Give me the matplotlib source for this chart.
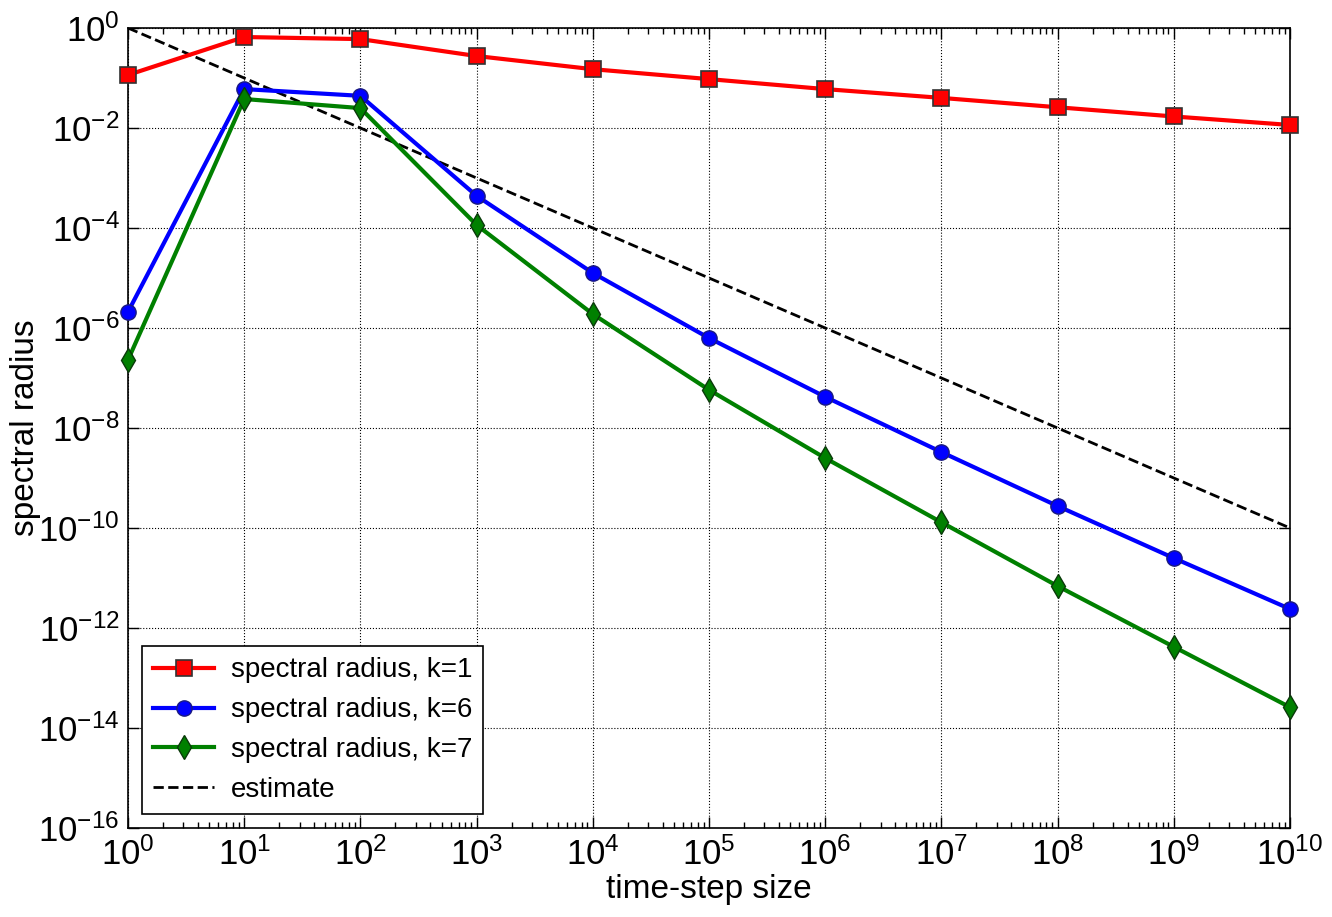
import numpy as np
import matplotlib
matplotlib.use("Agg")
import matplotlib.pyplot as plt
from matplotlib.ticker import LogLocator, FixedLocator, NullLocator

plt.rcParams['font.family'] = ['Liberation Sans', 'DejaVu Sans']
plt.rcParams['mathtext.fontset'] = 'custom'
plt.rcParams['mathtext.rm'] = 'Liberation Sans'
plt.rcParams['mathtext.it'] = 'Liberation Sans'
plt.rcParams['mathtext.default'] = 'regular'

dt = [1e0, 1e1, 1e2, 1e3, 1e4, 1e5, 1e6, 1e7, 1e8, 1e9, 1e10]
rho_k1 = [0.115, 0.66, 0.60, 0.275, 0.15, 0.095, 0.06, 0.04, 0.026, 0.017, 0.0115]
rho_k6 = [2.1e-6, 0.06, 0.044, 4.4e-4, 1.26e-5, 6.3e-7, 4.2e-8, 3.3e-9, 2.75e-10, 2.5e-11, 2.4e-12]
rho_k7 = [2.3e-7, 0.038, 0.025, 1.15e-4, 1.9e-6, 5.8e-8, 2.5e-9, 1.3e-10, 6.9e-12, 4.2e-13, 2.6e-14]
estimate = [1.0 / d for d in dt]

fig = plt.figure(figsize=(13.32, 9.17), dpi=100)
ax = fig.add_axes([128/1332, 1 - 828/917, (1290-128)/1332, (828-28)/917])

ax.loglog(dt, rho_k1, '-', color='red', lw=3, marker='s', ms=11, mec='#333333', mew=1.2,
          label='spectral radius, k=1', clip_on=False, zorder=3)
ax.loglog(dt, rho_k6, '-', color='blue', lw=3, marker='o', ms=11, mec='#1a1a80', mew=1.0,
          label='spectral radius, k=6', clip_on=False, zorder=3)
ax.loglog(dt, rho_k7, '-', color='green', lw=3, marker='d', ms=12, mec='#0a3a0a', mew=1.0,
          label='spectral radius, k=7', clip_on=False, zorder=3)
ax.loglog(dt, estimate, '--', color='black', lw=2, label='estimate', zorder=2)

ax.set_xlim(1, 1e10)
ax.set_ylim(1e-16, 1)

ax.xaxis.set_major_locator(FixedLocator([10.0**i for i in range(0, 11)]))
ax.xaxis.set_minor_locator(LogLocator(base=10, subs=np.arange(2, 10), numticks=100))
ax.yaxis.set_major_locator(FixedLocator([10.0**i for i in range(-16, 1, 2)]))
ax.yaxis.set_minor_locator(NullLocator())
ax.set_xticklabels([r'$10^{%d}$' % i for i in range(0, 11)])
ax.set_yticklabels([r'$10^{%d}$' % i for i in range(-16, 1, 2)])

ax.tick_params(which='both', direction='in', top=True, right=True)
ax.tick_params(which='major', length=8, width=1, labelsize=25)
ax.tick_params(axis='x', which='major', pad=7)
ax.tick_params(axis='y', which='major', pad=6)
ax.tick_params(which='minor', length=4, width=1)
ax.grid(True, which='major', linestyle=':', color='black', lw=0.8)
for s in ax.spines.values():
    s.set_linewidth(1.2)

ax.set_xlabel('time-step size', fontsize=24, labelpad=1)
ax.set_ylabel('spectral radius', fontsize=24, labelpad=-2)

leg = ax.legend(loc='lower left', fontsize=20, fancybox=False, edgecolor='black',
                framealpha=1, handlelength=2.2, handletextpad=0.6,
                borderaxespad=0.5, labelspacing=0.5)
leg.get_frame().set_linewidth(1.2)

fig.savefig('out.png', dpi=100)
